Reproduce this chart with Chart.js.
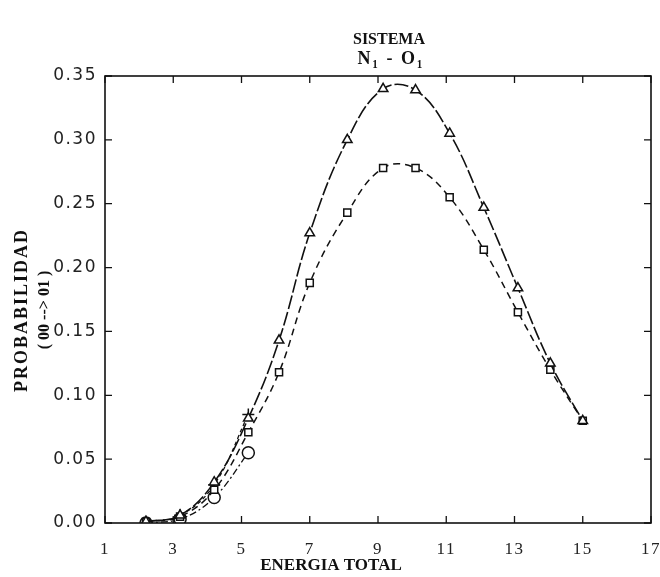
<!DOCTYPE html>
<html lang="es">

<head>
    <meta charset="UTF-8">
    <title>Sistema N1 - O1</title>
    <script src="https://cdn.jsdelivr.net/npm/chart.js"></script>
    <style>
        body { margin: 0; background: #fff; }
        #grafico-caja { width: 660px; height: 577px; }
    </style>
</head>

<body>
    <div id="grafico-caja">
        <canvas id="probabilidad"></canvas>
    </div>
</body>

</html>
<script>
    // valores
    var energia = [2.2, 3.2, 4.2, 5.2, 6.1, 7.0, 8.1, 9.15, 10.1, 11.1, 12.1, 13.1, 14.05, 15.0];
    var triangulos = [0.001, 0.006, 0.032, 0.082, 0.143, 0.227, 0.300, 0.340, 0.339, 0.305, 0.247, 0.184, 0.125, 0.080];
    var cuadrados = [0.001, 0.005, 0.026, 0.071, 0.118, 0.188, 0.243, 0.278, 0.278, 0.255, 0.214, 0.165, 0.120, 0.080];
    var energiaBaja = [2.2, 3.2, 4.2, 5.2];
    var circulos = [0.000, 0.003, 0.020, 0.055];
    var cruces = [0.001, 0.006, 0.030, 0.085];
    var ticksX = [1, 3, 5, 7, 9, 11, 13, 15, 17];

    function puntos(xs, ys) {
        return xs.map((x, i) => ({ x: x, y: ys[i] }));
    }

    var marco = {
        id: 'marco',
        beforeDraw(chart) {
            // los numeros del original van algo espaciados
            chart.ctx.letterSpacing = '1.5px';
        },
        afterDraw(chart) {
            const ctx = chart.ctx;
            const a = chart.chartArea;
            const x = chart.scales.x;
            const y = chart.scales.y;
            ctx.save();
            ctx.strokeStyle = '#111';
            ctx.lineWidth = 1.6;
            ctx.strokeRect(a.left, a.top, a.right - a.left, a.bottom - a.top);
            ctx.lineWidth = 1.3;
            ctx.beginPath();
            x.ticks.forEach(t => {
                const px = x.getPixelForValue(t.value);
                ctx.moveTo(px, a.bottom); ctx.lineTo(px, a.bottom - 7);
                ctx.moveTo(px, a.top); ctx.lineTo(px, a.top + 7);
            });
            y.ticks.forEach(t => {
                const py = y.getPixelForValue(t.value);
                ctx.moveTo(a.left, py); ctx.lineTo(a.left + 7, py);
                ctx.moveTo(a.right, py); ctx.lineTo(a.right - 7, py);
            });
            ctx.stroke();

            ctx.fillStyle = '#111';
            ctx.textAlign = 'center';
            ctx.textBaseline = 'middle';
            ctx.letterSpacing = '0px';
            ctx.font = 'bold 16px "Liberation Serif"';
            ctx.fillText('SISTEMA', 389, 40);
            ctx.font = 'bold 18px "Liberation Serif"';
            ctx.letterSpacing = '2px';
            ctx.fillText('N\u2081 - O\u2081', 391, 59);
            ctx.font = 'bold 17px "Liberation Serif"';
            ctx.letterSpacing = '0px';
            ctx.fillText('ENERGIA TOTAL', 331, 566);

            ctx.translate(22, 310);
            ctx.rotate(-Math.PI / 2);
            ctx.font = 'bold 18px "Liberation Serif"';
            ctx.letterSpacing = '2px';
            ctx.fillText('PROBABILIDAD', 0, 0);
            ctx.font = 'bold 16px "Liberation Serif"';
            ctx.letterSpacing = '0px';
            ctx.fillText('( 00 --> 01 )', 0, 23);
            ctx.restore();
        }
    };

    var grafico = new Chart(document.getElementById('probabilidad').getContext('2d'), {
        type: 'scatter',
        data: {
            datasets: [{
                label: 'triangulos',
                data: puntos(energia, triangulos),
                showLine: true,
                tension: 0.4,
                borderColor: '#111',
                borderWidth: 1.6,
                borderDash: [14, 3],
                pointStyle: 'triangle',
                pointRadius: 5.5,
                pointBorderWidth: 1.5,
                pointBackgroundColor: '#fff',
                pointBorderColor: '#111'
            }, {
                label: 'cuadrados',
                data: puntos(energia, cuadrados),
                showLine: true,
                tension: 0.4,
                borderColor: '#111',
                borderWidth: 1.5,
                borderDash: [7, 5],
                pointStyle: 'rect',
                pointRadius: 5,
                pointBorderWidth: 1.5,
                pointBackgroundColor: '#fff',
                pointBorderColor: '#111'
            }, {
                label: 'circulos',
                data: puntos(energiaBaja, circulos),
                showLine: true,
                tension: 0.4,
                borderColor: '#111',
                borderWidth: 1.3,
                borderDash: [7, 3, 2, 3],
                pointStyle: 'circle',
                pointRadius: 6,
                pointBorderWidth: 1.5,
                pointBackgroundColor: '#fff',
                pointBorderColor: '#111'
            }, {
                label: 'cruces',
                data: puntos(energiaBaja, cruces),
                showLine: true,
                tension: 0.4,
                borderColor: '#111',
                borderWidth: 1.3,
                borderDash: [4, 3],
                pointStyle: 'cross',
                pointRadius: 6,
                pointBorderWidth: 1.5,
                pointBorderColor: '#111'
            }]
        },
        options: {
            responsive: true,
            maintainAspectRatio: false,
            animation: false,
            layout: { padding: { top: 76, right: 9, bottom: 0, left: 0 } },
            plugins: {
                legend: { display: false },
                tooltip: { enabled: false }
            },
            scales: {
                x: {
                    type: 'linear',
                    min: 1,
                    max: 17,
                    afterBuildTicks: scale => { scale.ticks = ticksX.map(v => ({ value: v })); },
                    afterFit: scale => {
                        scale.height = 54;
                        scale.paddingLeft = 0;
                        scale.paddingRight = 0;
                    },
                    grid: { display: false, drawTicks: false },
                    border: { display: false },
                    ticks: {
                        padding: 16,
                        color: '#222',
                        font: { family: '"Liberation Serif"', size: 17 }
                    }
                },
                y: {
                    min: 0,
                    max: 0.35,
                    afterFit: scale => {
                        scale.width = 105;
                        scale.paddingTop = 0;
                        scale.paddingBottom = 0;
                    },
                    grid: { display: false, drawTicks: false },
                    border: { display: false },
                    ticks: {
                        stepSize: 0.05,
                        padding: 8,
                        color: '#222',
                        font: { family: '"DejaVu Sans"', size: 17 },
                        callback: v => v.toFixed(2)
                    }
                }
            }
        },
        plugins: [marco]
    });
</script>
